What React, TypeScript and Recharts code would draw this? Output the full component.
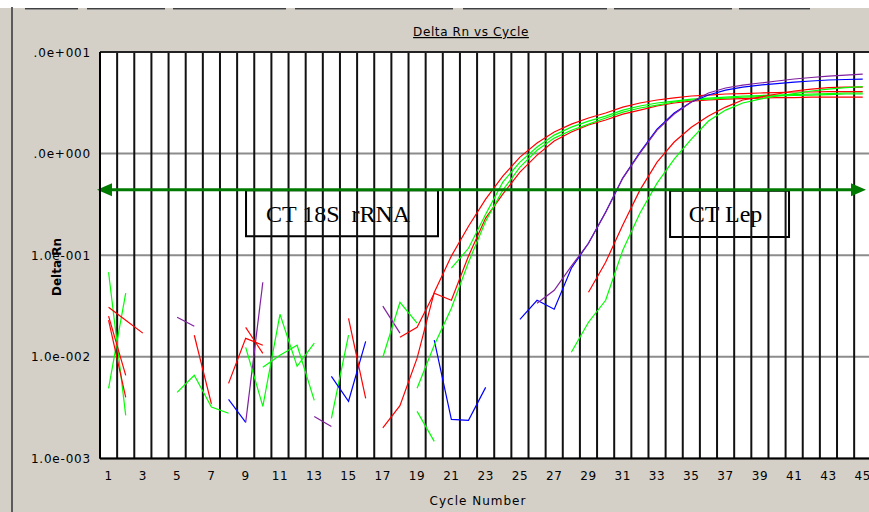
import React from 'react';
import { LineChart, Line, XAxis, YAxis, CartesianGrid, ReferenceLine, ReferenceArea } from 'recharts';

// ---- categories / ticks ----
const cycleNumbers = [1,2,3,4,5,6,7,8,9,10,11,12,13,14,15,16,17,18,19,20,21,22,23,24,25,26,27,28,29,30,31,32,33,34,35,36,37,38,39,40,41,42,43,44,45];
const xTickCycles = [1,3,5,7,9,11,13,15,17,19,21,23,25,27,29,31,33,35,37,39,41,43,45];
const yTickValues = [0.001, 0.01, 0.1, 1, 10];
const yTickLabels = ['1.0e-003', '1.0e-002', '1.0e-001', '.0e+000', '.0e+001'];
const thresholdRn = 0.442;

// ---- amplification curves (Delta Rn per cycle) ----
// 18S rRNA group
const rna18sRedA = [0.0020,0.0033,0.0097,0.043,0.098,0.193,0.356,0.600,0.924,1.27,1.63,1.95,2.24,2.51,2.87,3.15,3.37,3.53,3.69,3.77,3.86,3.90,3.95,3.99,4.04,4.04,4.08,4.08,4.08]; // from cycle 17
const rna18sRedB = [0.0156,0.0195,0.0423,0.036,0.098,0.232,0.399,0.657,0.966,1.33,1.63,1.91,2.14,2.45,2.68,2.94,3.15,3.29,3.37,3.44,3.48,3.52,3.56,3.56,3.60,3.60,3.60,3.60]; // from 18
const rna18sGreenA = [0.0745,0.117,0.253,0.524,0.825,1.16,1.52,1.82,2.09,2.34,2.68,2.94,3.15,3.29,3.44,3.52,3.60,3.69,3.73,3.77,3.81,3.86,3.90,3.95,3.95]; // from 21
const rna18sGreenB = [0.0049,0.0130,0.0301,0.0853,0.216,0.437,0.736,1.08,1.42,1.70,1.95,2.24,2.56,2.81,3.00,3.22,3.37,3.44,3.52,3.60,3.64,3.69,3.73,3.77,3.81,3.86,3.86]; // from 19
// Lep group
const lepPurple = [0.0337,0.0452,0.078,0.131,0.265,0.574,1.01,1.70,2.45,3.22,3.95,4.42,4.73,4.95,5.18,5.42,5.61,5.80,5.93,6.07]; // from 26
const lepBlue = [0.0234,0.036,0.0294,0.0745,0.131,0.265,0.574,1.03,1.74,2.51,3.22,3.77,4.22,4.52,4.73,4.89,5.06,5.18,5.30,5.36,5.42]; // from 25
const lepRed = [0.0432,0.0853,0.198,0.437,0.825,1.30,1.82,2.34,2.87,3.37,3.60,3.86,4.13,4.32,4.47,4.52,4.52]; // from 29
const lepGreen = [0.0111,0.0219,0.036,0.112,0.259,0.512,0.883,1.39,2.09,2.68,3.15,3.44,3.69,3.90,4.13,4.32,4.47,4.57]; // from 28

// ---- baseline noise fragments ----
const noiseGreen1 = [0.068, 0.00265];
const noiseGreen2 = [0.0049, 0.0423];
const noiseRed1 = [0.0308, 0.0229, 0.0171];
const noiseRed2 = [0.0251, 0.00657];
const noiseRed3 = [0.0229, 0.00399];
const noisePurple1 = [0.0245, 0.020];
const noiseRed4 = [0.0163, 0.00344];
const noiseGreen3 = [0.00447, 0.00657, 0.00321, 0.00278];
const noiseBlue1 = [0.00381, 0.00226];
const noisePurple2 = [0.00226, 0.0542];
const noiseRed5 = [0.00548, 0.0152, 0.0130];
const noiseRed6 = [0.0195, 0.0108];
const noiseGreen4 = [0.0124, 0.00325, 0.0262, 0.00806, 0.0136];
const noiseGreen5 = [0.00788, 0.01035, 0.0130, 0.00372];
const noisePurple3 = [0.00259, 0.00206];
const noiseGreen6 = [0.00248, 0.0163];
const noiseBlue2 = [0.00642, 0.00365, 0.0142];
const noiseRed7 = [0.0239, 0.0039];
const noisePurple4 = [0.0315, 0.0171];
const noiseGreen7 = [0.0099, 0.0344, 0.0214];
const noiseGreen8 = [0.0029, 0.00147];
const noiseBlue3 = [0.0146, 0.00242, 0.00237, 0.0050];

// ---- annotation boxes (data units) ----
const box18S = { x1: 9.02, x2: 20.22, y1: 0.154, y2: 0.437, text: 'CT 18S  rRNA' };
const boxLep = { x1: 33.76, x2: 40.7, y1: 0.151, y2: 0.43, text: 'CT Lep' };
const arrowCycles = [0.325, 45.19];

const RED = '#FF0000';
const GREEN = '#00FF00';
const BLUE = '#0000FF';
const PURPLE = '#8020A0';
const THRESH = '#007A00';

const seriesTable = [
  { id: 'n1', color: GREEN, start: 1, values: noiseGreen1 },
  { id: 'n2', color: GREEN, start: 1, values: noiseGreen2 },
  { id: 'n3', color: RED, start: 1, values: noiseRed1 },
  { id: 'n4', color: RED, start: 1, values: noiseRed2 },
  { id: 'n5', color: RED, start: 1, values: noiseRed3 },
  { id: 'n6', color: PURPLE, start: 5, values: noisePurple1 },
  { id: 'n7', color: RED, start: 6, values: noiseRed4 },
  { id: 'n8', color: GREEN, start: 5, values: noiseGreen3 },
  { id: 'n9', color: BLUE, start: 8, values: noiseBlue1 },
  { id: 'n10', color: PURPLE, start: 9, values: noisePurple2 },
  { id: 'n11', color: RED, start: 8, values: noiseRed5 },
  { id: 'n12', color: RED, start: 9, values: noiseRed6 },
  { id: 'n13', color: GREEN, start: 9, values: noiseGreen4 },
  { id: 'n14', color: GREEN, start: 10, values: noiseGreen5 },
  { id: 'n15', color: PURPLE, start: 13, values: noisePurple3 },
  { id: 'n16', color: GREEN, start: 14, values: noiseGreen6 },
  { id: 'n17', color: BLUE, start: 14, values: noiseBlue2 },
  { id: 'n18', color: RED, start: 15, values: noiseRed7 },
  { id: 'n19', color: PURPLE, start: 17, values: noisePurple4 },
  { id: 'n20', color: GREEN, start: 17, values: noiseGreen7 },
  { id: 'n21', color: GREEN, start: 19, values: noiseGreen8 },
  { id: 'n22', color: BLUE, start: 20, values: noiseBlue3 },
  { id: 'rB', color: RED, start: 18, values: rna18sRedB },
  { id: 'gB', color: GREEN, start: 19, values: rna18sGreenB },
  { id: 'gA', color: GREEN, start: 21, values: rna18sGreenA },
  { id: 'rA', color: RED, start: 17, values: rna18sRedA },
  { id: 'lb', color: BLUE, start: 25, values: lepBlue },
  { id: 'lp', color: PURPLE, start: 26, values: lepPurple },
  { id: 'lr', color: RED, start: 29, values: lepRed },
  { id: 'lg', color: GREEN, start: 28, values: lepGreen },
];

const toRows = (start: number, values: number[]) => values.map((v, i) => ({ cycle: start + i, rn: v }));
const cycleBoundaries = [cycleNumbers[0] - 0.5, ...cycleNumbers.map((c) => c + 0.5)];

const FONT = "'DejaVu Sans', Verdana, sans-serif";

const XTick = (props: any) => {
  const { x, y, payload } = props;
  return (
    <text x={x} y={y + 14} textAnchor="middle" fontFamily={FONT} fontSize={12} letterSpacing={0.6} fill="#000">
      {payload.value}
    </text>
  );
};

const YTick = (props: any) => {
  const { x, y, payload } = props;
  const idx = yTickValues.indexOf(payload.value);
  return (
    <text x={x - 1} y={y + 4.5} textAnchor="end" fontFamily={FONT} fontSize={12} letterSpacing={0.8} fill="#000">
      {idx >= 0 ? yTickLabels[idx] : ''}
    </text>
  );
};

const BoxLabel = (props: any) => {
  const { viewBox, text } = props;
  if (!viewBox) return null;
  return (
    <text
      x={viewBox.x + viewBox.width / 2 - 4}
      y={viewBox.y + viewBox.height / 2 + 8.5}
      textAnchor="middle"
      fontFamily="'Liberation Serif', 'DejaVu Serif', serif"
      fontSize={24}
      fill="#000"
      style={{ whiteSpace: 'pre' }}
    >
      {text}
    </text>
  );
};

const ThresholdArrow = (props: any) => {
  const { x1, y1, x2, y2 } = props;
  const head = 15;
  const half = 6.5;
  return (
    <g>
      <line x1={x1 + head - 2} y1={y1} x2={x2 - head + 2} y2={y2} stroke={THRESH} strokeWidth={3} />
      <polygon points={`${x1},${y1} ${x1 + head},${y1 - half} ${x1 + head},${y1 + half}`} fill={THRESH} />
      <polygon points={`${x2},${y2} ${x2 - head},${y2 - half} ${x2 - head},${y2 + half}`} fill={THRESH} />
    </g>
  );
};

const headerBrackets = [[25, 78], [87, 165], [173, 286], [295, 453], [463, 607], [614, 732], [739, 810]];

export default function App() {
  return (
    <div style={{ position: 'absolute', left: 0, top: 0, width: 869, height: 512, overflow: 'hidden', background: '#D4D0C8' }}>
      <div style={{ position: 'absolute', left: 0, top: 0, width: 869, height: 8, background: '#fff' }} />
      {headerBrackets.map(([a, b]) => (
        <div key={a} style={{ position: 'absolute', left: a, top: 8, width: b - a, height: 2, borderTop: '1px solid #404040', borderBottom: '1px solid #909090', boxSizing: 'border-box' }} />
      ))}
      <div style={{ position: 'absolute', left: 11, top: 7, width: 2, height: 505, background: '#5a5a5a' }} />
      <div style={{ position: 'absolute', left: 0, top: 0 }}>
        <LineChart width={880} height={512} margin={{ top: 52, right: 8.7, bottom: 23.6, left: 0 }}>
          <CartesianGrid vertical={false} stroke="#8c8c8c" strokeWidth={2} fill="#ffffff" fillOpacity={1} />
          <XAxis
            type="number"
            dataKey="cycle"
            domain={[0.5, 45.5]}
            allowDataOverflow
            ticks={xTickCycles}
            interval={0}
            tick={<XTick />}
            tickLine={false}
            axisLine={{ stroke: '#000', strokeWidth: 2 }}
            height={30}
          />
          <YAxis
            type="number"
            scale="log"
            domain={[0.001, 10]}
            allowDataOverflow
            ticks={yTickValues}
            interval={0}
            tick={<YTick />}
            tickLine={false}
            axisLine={{ stroke: '#000', strokeWidth: 2 }}
            width={100}
          />
          {cycleBoundaries.map((b) => (
            <ReferenceLine key={'v' + b} x={b} stroke="#111" strokeWidth={2} />
          ))}
          <ReferenceLine y={10} stroke="#222" strokeWidth={2} />
          {seriesTable.map((s) => (
            <Line
              key={s.id}
              name={s.id}
              data={toRows(s.start, s.values)}
              dataKey="rn"
              type="linear"
              stroke={s.color}
              strokeWidth={1.2}
              dot={false}
              activeDot={false}
              isAnimationActive={false}
            />
          ))}
          {[box18S, boxLep].map((bx) => (
            <ReferenceArea
              key={bx.text}
              x1={bx.x1}
              x2={bx.x2}
              y1={bx.y1}
              y2={bx.y2}
              fill="#ffffff"
              fillOpacity={1}
              stroke="#000"
              strokeWidth={2}
              label={<BoxLabel text={bx.text} />}
            />
          ))}
          <ReferenceLine
            segment={[{ x: arrowCycles[0], y: thresholdRn }, { x: arrowCycles[1], y: thresholdRn }]}
            ifOverflow="visible"
            shape={(p: any) => <ThresholdArrow {...p} />}
          />
        </LineChart>
      </div>
      <svg width={869} height={512} style={{ position: 'absolute', left: 0, top: 0, pointerEvents: 'none' }}>
        <text x={471} y={36} textAnchor="middle" fontFamily={FONT} fontSize={12} letterSpacing={0.6} textDecoration="underline" fill="#000">
          Delta Rn vs Cycle
        </text>
        <text transform="translate(61,267) rotate(-90)" textAnchor="middle" fontFamily={FONT} fontSize={12} fontWeight="bold" fill="#000">
          Delta Rn
        </text>
        <text x={478} y={505} textAnchor="middle" fontFamily={FONT} fontSize={12} letterSpacing={1} fill="#000">
          Cycle Number
        </text>
      </svg>
    </div>
  );
}
